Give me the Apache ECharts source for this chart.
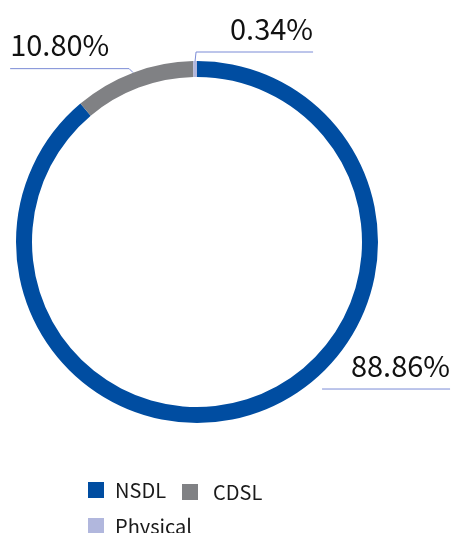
<!DOCTYPE html>
<html>
<head>
<meta charset="utf-8">
<script src="https://cdn.jsdelivr.net/npm/echarts@6/dist/echarts.min.js"></script>
<style>
  html, body { margin: 0; padding: 0; background: #ffffff; }
  #chart { width: 453px; height: 533px; }
</style>
</head>
<body>
<div id="chart"></div>
<script>
// Shareholding by mode of holding (percent of total shares)
const categories = ['NSDL', 'CDSL', 'Physical'];
const shares = [88.86, 10.80, 0.34];
const palette = ['#004da1', '#808184', '#b1b7dd'];

// Leader for each slice label: side (+1 right, -1 left), rise of the rule above
// the ring anchor, offset of the rule start from the anchor, rule length, and
// whether a connector joins the rule to the ring.
const leaders = [
  { side: 1, rise: -23, start: 63, run: 128, connect: false },
  { side: -1, rise: -4, start: -4, run: 119, connect: true },
  { side: 1, rise: -9, start: 1, run: 117, connect: true }
];

// Legend entries: where each swatch sits and the gap before its text
const legendSlots = [
  { left: 88, top: 480, gap: 6 },
  { left: 182, top: 482, gap: 10 },
  { left: 88, top: 516, gap: 6 }
];

const FONT = '"Noto Sans CJK SC", "Noto Sans", sans-serif';
const LABEL_SIZE = 29;
const SWATCH = 16;

const chart = echarts.init(document.getElementById('chart'), null, { renderer: 'canvas' });

chart.setOption({
  animation: false,
  color: palette,
  legend: categories.map((name, i) => ({
    data: [name],
    left: legendSlots[i].left,
    top: legendSlots[i].top,
    padding: 0,
    icon: 'rect',
    itemWidth: SWATCH,
    itemHeight: SWATCH,
    selectedMode: false,
    textStyle: {
      fontFamily: FONT,
      fontSize: 20,
      color: '#1a1a1a',
      padding: [0, 0, 0, legendSlots[i].gap]
    }
  })),
  series: [{
    type: 'pie',
    center: [197, 242],
    radius: [165, 181],
    startAngle: 90,
    clockwise: true,
    avoidLabelOverlap: false,
    data: categories.map((name, i) => ({ name: name, value: shares[i] })),
    label: {
      show: true,
      position: 'outside',
      fontFamily: FONT,
      fontSize: LABEL_SIZE,
      lineHeight: LABEL_SIZE,
      color: '#111111',
      formatter: p => p.value.toFixed(2) + '%'
    },
    labelLine: {
      show: true,
      length: 0,
      length2: 0,
      lineStyle: { color: '#7b8bd6', width: 1 }
    },
    labelLayout: function (params) {
      const spec = leaders[params.dataIndex];
      const anchor = params.labelLinePoints[0];
      const lineY = anchor[1] + spec.rise;
      const x0 = anchor[0] + spec.start;
      const x1 = x0 + spec.side * spec.run;
      const points = spec.connect
        ? [[anchor[0], anchor[1]], [x0, lineY], [x1, lineY]]
        : [[x0, lineY], [x0, lineY], [x1, lineY]];
      return {
        x: x1,
        y: lineY - 9,
        align: spec.side > 0 ? 'right' : 'left',
        verticalAlign: 'bottom',
        labelLinePoints: points
      };
    },
    emphasis: { disabled: true }
  }]
});
</script>
</body>
</html>
